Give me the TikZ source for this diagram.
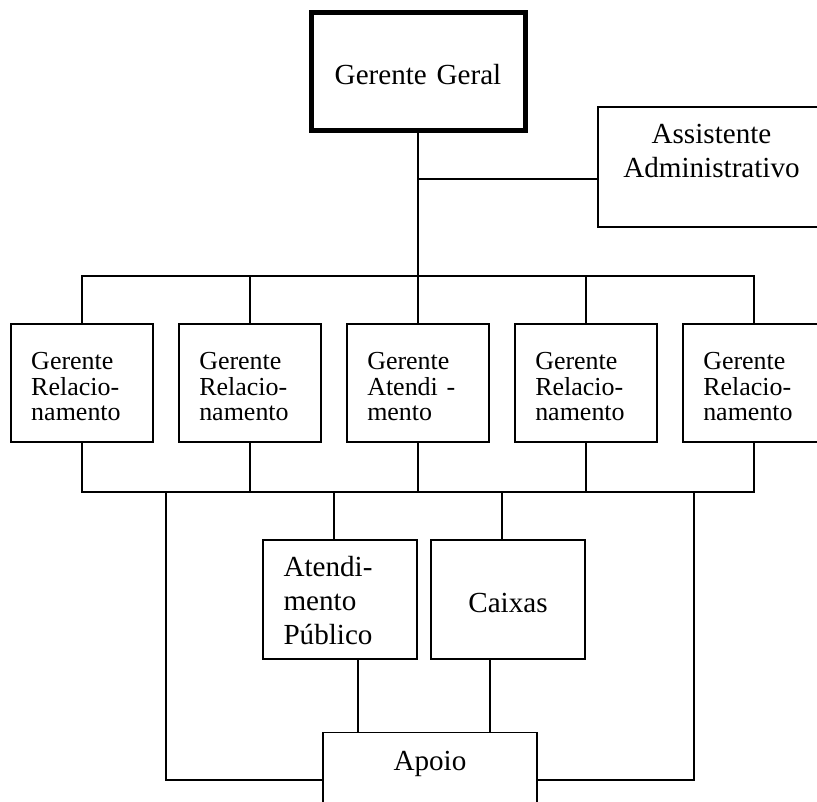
\documentclass[tikz,border=0pt]{standalone}
\usepackage{fontspec}
\setmainfont{Liberation Serif}
\newcommand{\pxu}{0.412pt}

\begin{document}
\begin{tikzpicture}[x=0.412pt,y=-0.412pt,line width=0.82pt,
  orgbox/.style={draw,rectangle,inner sep=0pt,outer sep=0pt},
  bigfont/.style={font=\fontsize{12}{14}\selectfont},
  smallfont/.style={font=\fontsize{10.7}{10.5}\selectfont},
  ger/.style={orgbox,smallfont,anchor=north,align=left,inner xsep=20.5*\pxu,text width=101.5*\pxu,text height=46*\pxu,text depth=72*\pxu}]
\useasboundingbox (0,0) rectangle (817,802);

\node[orgbox,bigfont,anchor=north,line width=2.06pt,align=center,text width=214*\pxu,text height=72.5*\pxu,text depth=46*\pxu] (GG) at (418,12.5) {Gerente Geral};
\node[orgbox,bigfont,anchor=north west,align=center,text width=227*\pxu,text height=37*\pxu,text depth=83*\pxu] (AA) at (598,107) {Assistente\\Administrativo};

\draw (82,324) node[ger] (GR1) {Gerente\\Relacio-\\namento} +(168,0) node[ger] (GR2) {Gerente\\Relacio-\\namento} +(336,0) node[ger] (GA) {Gerente\\Atendi -\\mento} +(504,0) node[ger] (GR4) {Gerente\\Relacio-\\namento} +(672,0) node[ger] (GR5) {Gerente\\Relacio-\\namento};

\node[orgbox,bigfont,anchor=north,align=left,inner xsep=20.6*\pxu,text width=113*\pxu,text height=37*\pxu,text depth=82*\pxu] (AP) at (340,540) {Atendi-\\mento\\Público};
\node[orgbox,bigfont,anchor=north,align=center,text width=154.5*\pxu,text height=72*\pxu,text depth=47*\pxu] (CX) at (508,540) {Caixas};
\node[orgbox,bigfont,anchor=north,align=center,text width=214*\pxu,text height=37.5*\pxu,text depth=80*\pxu] (APO) at (430,732.5) {Apoio};

\coordinate (TA) at (418,179);
\coordinate (TB) at (418,276);
\coordinate (BB) at (418,492);
\draw (GG.south)--(TB);
\draw (TA)--(TA -| AA.west);
\draw (GR1.north) |- (TB) -| (GR5.north);
\foreach \g in {GR2,GA,GR4} \draw (\g.north)--(\g.north |- TB);
\draw (GR1.south) |- (BB) -| (GR5.south);
\foreach \g in {GR2,GA,GR4} \draw (\g.south)--(\g.south |- BB);

\coordinate (LL) at (166,492);
\coordinate (LR) at (694,492);
\coordinate (LY) at (430,780);
\draw (LL) |- (LY -| APO.west);
\draw (LR) |- (LY -| APO.east);
\draw ([xshift=-6*\pxu]AP.north)--([xshift=-6*\pxu]AP.north |- BB);
\draw ([xshift=-6*\pxu]CX.north)--([xshift=-6*\pxu]CX.north |- BB);
\draw ([xshift=18*\pxu]AP.south)--([xshift=18*\pxu]AP.south |- APO.north);
\draw ([xshift=-18*\pxu]CX.south)--([xshift=-18*\pxu]CX.south |- APO.north);
%\draw (AP.south)--(APO.north);

\end{tikzpicture}
\end{document}
